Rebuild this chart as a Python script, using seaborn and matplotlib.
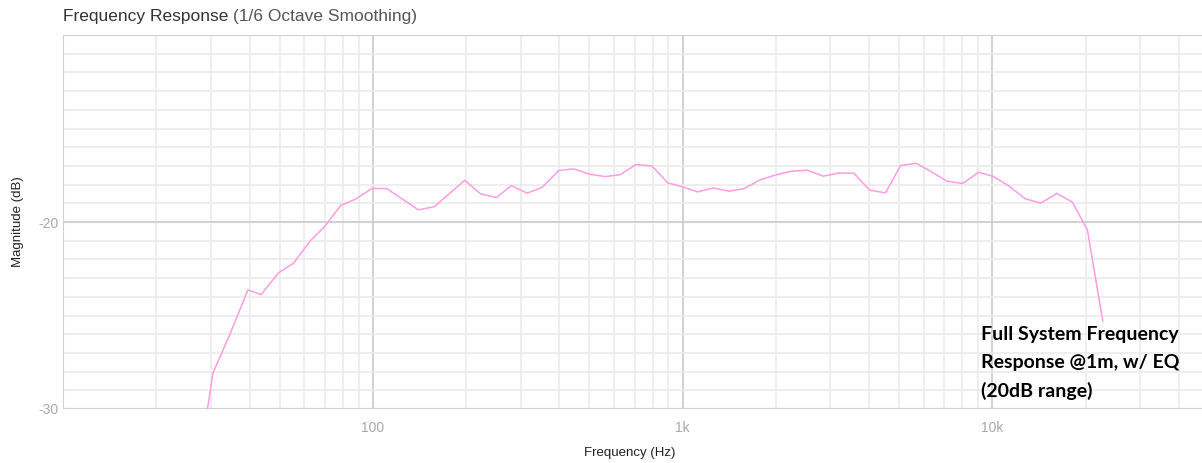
import numpy as np
import pandas as pd
import matplotlib
matplotlib.use("Agg")
import matplotlib.pyplot as plt
import matplotlib.ticker as mticker
import seaborn as sns

# Data (1/6 octave smoothed response)
freq_hz = [28, 30.5, 34.7, 39.5, 43.6, 49.7, 55.5, 62.8, 69.7, 78.9, 87.7,
           99.3, 110.9, 140.4, 158, 198, 223, 251, 280, 315, 352, 398, 445,
           503, 563, 629, 708, 796, 896, 1001, 1119, 1257, 1415, 1582, 1777,
           2000, 2235, 2529, 2849, 3199, 3575, 4017, 4520, 5054, 5677, 6392,
           7146, 8024, 9033, 10090, 11340, 12760, 14350, 16150, 18140, 20270,
           22720]
magnitude_db = [-32.1, -28.07, -25.94, -23.63, -23.88, -22.71, -22.2, -21.01,
                -20.27, -19.11, -18.79, -18.21, -18.21, -19.35, -19.18, -17.77,
                -18.5, -18.69, -18.05, -18.46, -18.15, -17.25, -17.16, -17.45,
                -17.57, -17.47, -16.93, -17.0, -17.91, -18.12, -18.39, -18.18,
                -18.35, -18.21, -17.75, -17.48, -17.29, -17.23, -17.55, -17.38,
                -17.39, -18.3, -18.44, -16.98, -16.86, -17.34, -17.82, -17.94,
                -17.34, -17.57, -18.09, -18.76, -18.99, -18.47, -18.94, -20.43,
                -25.3]

x_ticks = [100, 1000, 10000]
x_tick_labels = ["100", "1k", "10k"]
y_ticks = [-30, -20]
y_tick_labels = ["-30", "-20"]

df = pd.DataFrame({"freq": freq_hz, "mag": magnitude_db})

sns.set_theme(style="white")
plt.rcParams["font.family"] = ["Liberation Sans", "DejaVu Sans"]
plt.rcParams["axes.unicode_minus"] = False

W, H = 1202, 463
fig = plt.figure(figsize=(W / 100, H / 100), dpi=100)
ax = fig.add_axes([63 / W, 1 - 409 / H, 1 - 63 / W, (409 - 35) / H])

sns.lineplot(data=df, x="freq", y="mag", ax=ax, color="#ff9ce2",
             linewidth=1.1, sort=False, zorder=3)

ax.set_xscale("log")
ax.set_xlim(10, 47500)
ax.set_ylim(-30, -10)

ax.xaxis.set_major_locator(mticker.FixedLocator(x_ticks))
ax.xaxis.set_major_formatter(mticker.FixedFormatter(x_tick_labels))
ax.xaxis.set_minor_locator(mticker.LogLocator(base=10, subs=np.arange(2, 10)))
ax.xaxis.set_minor_formatter(mticker.NullFormatter())
ax.yaxis.set_major_locator(mticker.FixedLocator(y_ticks))
ax.yaxis.set_major_formatter(mticker.FixedFormatter(y_tick_labels))
ax.yaxis.set_minor_locator(mticker.MultipleLocator(1))

ax.grid(which="minor", color="#ebebeb", linewidth=1.2)
ax.grid(which="major", color="#c9c9c9", linewidth=1.2)
ax.axhline(-10, color="#cfcfcf", linewidth=1.5, zorder=2)
ax.axvline(10, color="#cfcfcf", linewidth=1.5, zorder=2)
ax.axhline(-30, color="#cfcfcf", linewidth=1.5, zorder=2)
for s in ax.spines.values():
    s.set_visible(False)

ax.tick_params(which="both", length=0, labelsize=10, labelcolor="#a8a8a8")
ax.tick_params(axis="x", pad=9)
ax.tick_params(axis="y", pad=3)

ax.set_xlabel("Frequency (Hz)", fontsize=9.5, color="#222222", va="center")
ax.set_ylabel("Magnitude (dB)", fontsize=9.5, color="#222222", va="center")
ax.xaxis.set_label_coords((630 - 63) / (W - 63), -(453 - 409) / (409 - 35))
ax.yaxis.set_label_coords(-(63 - 18) / (W - 63), (409 - 222) / (409 - 35))

# Title in two tones
t1 = fig.text(63 / W, 1 - 17 / H, "Frequency Response", fontsize=12.5,
              color="#333333", va="center", ha="left")
ax.annotate(" (1/6 Octave Smoothing)", xy=(1, 0.5), xycoords=t1,
            fontsize=12.5, color="#555555", va="center", ha="left",
            annotation_clip=False)

fig.text(981 / W, 1 - 363 / H,
         "Full System Frequency\nResponse @1m, w/ EQ\n(20dB range)",
         fontsize=14, fontweight="bold", color="black", va="center",
         ha="left", linespacing=1.72, family=["Lato", "DejaVu Sans"])

fig.savefig("out.png", dpi=100)
